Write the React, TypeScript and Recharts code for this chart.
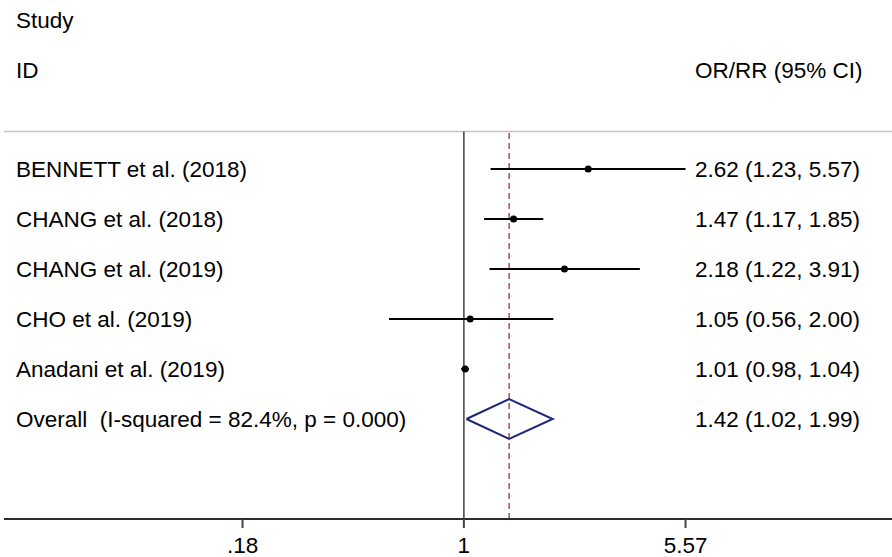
import React from 'react';
import {
  ComposedChart,
  Scatter,
  Line,
  XAxis,
  YAxis,
  ErrorBar,
  ReferenceLine,
} from 'recharts';

// Study rows (top to bottom)
const STUDIES = [
  'BENNETT et al. (2018)',
  'CHANG et al. (2018)',
  'CHANG et al. (2019)',
  'CHO et al. (2019)',
  'Anadani et al. (2019)',
];
const ESTIMATES = [2.62, 1.47, 2.18, 1.05, 1.01];
const LOWER = [1.23, 1.17, 1.22, 0.56, 0.98];
const UPPER = [5.57, 1.85, 3.91, 2.0, 1.04];

// Pooled estimate
const OVERALL_LABEL = 'Overall  (I-squared = 82.4%, p = 0.000)';
const OVERALL_EST = 1.42;
const OVERALL_LOWER = 1.02;
const OVERALL_UPPER = 1.99;

// Axis ticks
const X_TICKS = [0.18, 1, 5.57];
const X_TICK_LABELS = ['.18', '1', '5.57'];

// Layout constants
const W = 892;
const H = 557;
const X_DOMAIN: [number, number] = [0.02836, 27.79];
const Y_DOMAIN: [number, number] = [0.25, 8];
const DIAMOND_HALF = 0.4;
const FONT = '"Liberation Sans", Arial, Helvetica, sans-serif';
const FS = 22.5;

const fmt = (v: number) => v.toFixed(2);

const rowLabels = [...STUDIES, OVERALL_LABEL];
const ciLabels = [
  ...ESTIMATES.map((e, i) => `${fmt(e)} (${fmt(LOWER[i])}, ${fmt(UPPER[i])})`),
  `${fmt(OVERALL_EST)} (${fmt(OVERALL_LOWER)}, ${fmt(OVERALL_UPPER)})`,
];
const rowTicks = rowLabels.map((_, i) => i + 1);

const studyPoints = ESTIMATES.map((e, i) => ({
  x: e,
  y: i + 1,
  ci: [e - LOWER[i], UPPER[i] - e],
}));

const overallRow = STUDIES.length + 1;
const diamond = [
  { x: OVERALL_LOWER, y: overallRow },
  { x: OVERALL_EST, y: overallRow - DIAMOND_HALF },
  { x: OVERALL_UPPER, y: overallRow },
  { x: OVERALL_EST, y: overallRow + DIAMOND_HALF },
  { x: OVERALL_LOWER, y: overallRow },
];

const textStyle: React.CSSProperties = { whiteSpace: 'pre' };

const LeftTick = (props: any) => {
  const { y, payload } = props;
  return (
    <text
      x={16}
      y={y}
      dy={8}
      fontSize={FS}
      fontFamily={FONT}
      fill="#000"
      textAnchor="start"
      style={textStyle}
    >
      {rowLabels[payload.value - 1]}
    </text>
  );
};

const RightTick = (props: any) => {
  const { y, payload } = props;
  return (
    <text
      x={695}
      y={y}
      dy={8}
      fontSize={FS}
      fontFamily={FONT}
      fill="#000"
      textAnchor="start"
      style={textStyle}
    >
      {ciLabels[payload.value - 1]}
    </text>
  );
};

const BottomTick = (props: any) => {
  const { x, y, payload } = props;
  const idx = X_TICKS.indexOf(payload.value);
  return (
    <text
      x={x}
      y={y}
      dy={23}
      fontSize={FS}
      fontFamily={FONT}
      fill="#000"
      textAnchor="middle"
    >
      {X_TICK_LABELS[idx]}
    </text>
  );
};

const Dot = (props: any) => (
  <circle cx={props.cx} cy={props.cy} r={3.5} fill="#000" />
);

export default function App() {
  return (
    <div style={{ position: 'relative', width: W, height: H, background: '#fff' }}>
      <style>{`body{margin:0;background:#fff}`}</style>
      <ComposedChart
        width={W}
        height={H}
        margin={{ top: 131.5, right: -1, bottom: 0, left: 4 }}
      >
        <XAxis
          dataKey="x"
          type="number"
          scale="log"
          domain={X_DOMAIN}
          allowDataOverflow
          ticks={X_TICKS}
          interval={0}
          height={38}
          axisLine={{ stroke: '#2b2b2b', strokeWidth: 2 }}
          tickLine={{ stroke: '#444', strokeWidth: 2 }}
          tickSize={9}
          tickMargin={2}
          tick={<BottomTick />}
        />
        <YAxis
          yAxisId="left"
          type="number"
          domain={Y_DOMAIN}
          reversed
          allowDataOverflow
          ticks={rowTicks}
          interval={0}
          width={1}
          mirror
          axisLine={false}
          tickLine={false}
          tick={<LeftTick />}
        />
        <YAxis
          yAxisId="right"
          orientation="right"
          type="number"
          domain={Y_DOMAIN}
          reversed
          allowDataOverflow
          ticks={rowTicks}
          interval={0}
          width={1}
          mirror
          axisLine={false}
          tickLine={false}
          tick={<RightTick />}
        />
        <ReferenceLine
          yAxisId="left"
          y={Y_DOMAIN[0]}
          stroke="#c4c4c4"
          strokeWidth={1.5}
        />
        <ReferenceLine
          yAxisId="left"
          x={1}
          stroke="#4a4a4a"
          strokeWidth={1.6}
        />
        <ReferenceLine
          yAxisId="left"
          x={OVERALL_EST}
          stroke="#9b2335"
          strokeWidth={1.2}
          strokeDasharray="6 4"
        />
        <Scatter
          yAxisId="left"
          data={studyPoints}
          dataKey="y"
          shape={<Dot />}
          isAnimationActive={false}
        >
          <ErrorBar
            dataKey="ci"
            direction="x"
            width={0}
            stroke="#000"
            strokeWidth={2.2}
          />
        </Scatter>
        <Line
          yAxisId="left"
          data={diamond}
          dataKey="y"
          type="linear"
          stroke="#1c2878"
          strokeWidth={2}
          dot={false}
          activeDot={false}
          isAnimationActive={false}
        />
      </ComposedChart>
      <svg
        width={W}
        height={H}
        style={{ position: 'absolute', left: 0, top: 0, pointerEvents: 'none' }}
      >
        <text x={16} y={28} fontSize={FS} fontFamily={FONT} fill="#000">
          Study
        </text>
        <text x={16} y={78} fontSize={FS} fontFamily={FONT} fill="#000">
          ID
        </text>
        <text x={695} y={78} fontSize={FS} fontFamily={FONT} fill="#000">
          OR/RR (95% CI)
        </text>
      </svg>
    </div>
  );
}
